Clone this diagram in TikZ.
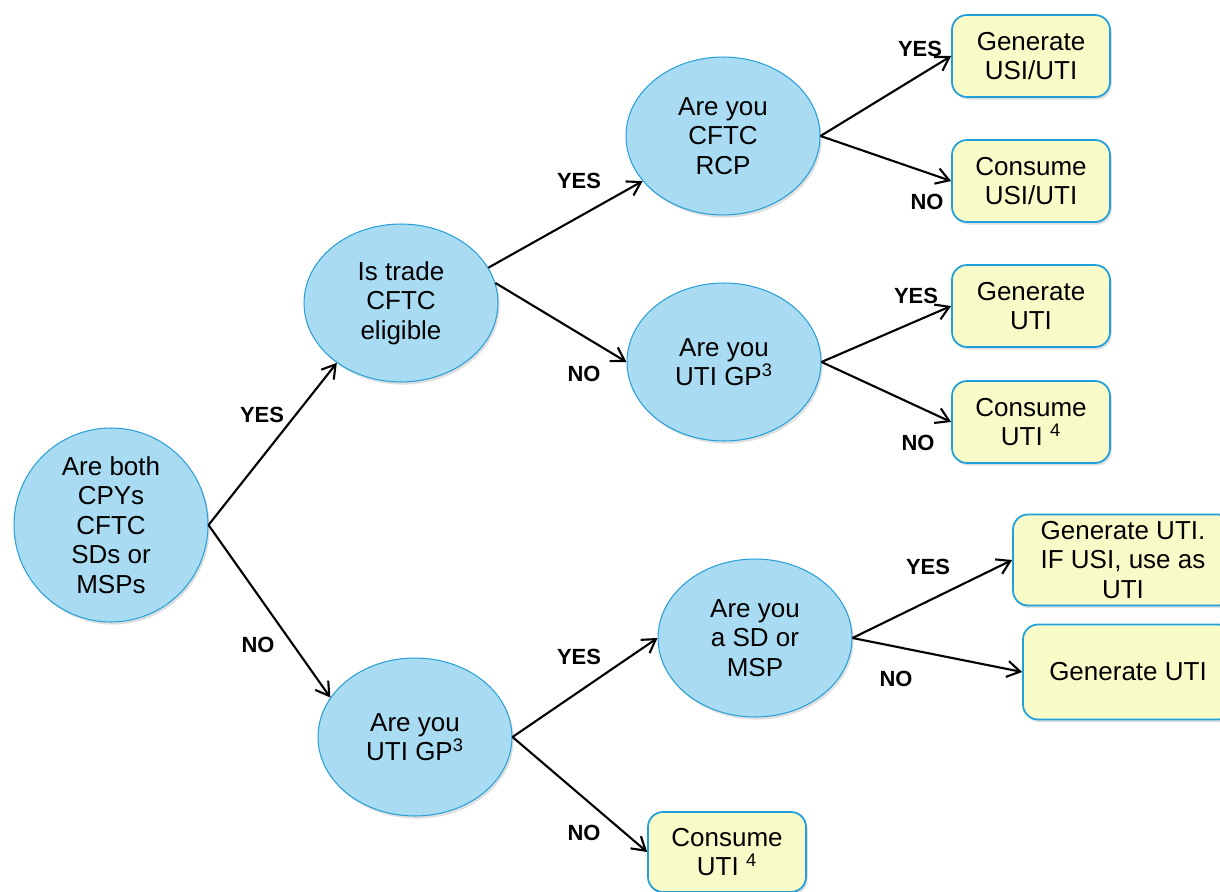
\documentclass[tikz,border=0pt]{standalone}
\usepackage{fontspec}
\setmainfont{Liberation Sans}
\usepackage{tikz}
\usetikzlibrary{shapes.geometric,arrows.meta,shadows}

\definecolor{askfill}{HTML}{A9DCF2}
\definecolor{askline}{HTML}{2AA0D8}
\definecolor{endfill}{HTML}{F8FBC8}
\definecolor{endline}{HTML}{1FA0DA}

\tikzset{
  ask/.style={ellipse,draw=askline,line width=0.6pt,fill=askfill,
    minimum width=3.88cm,minimum height=3.16cm,inner sep=0pt,align=center,
    drop shadow={opacity=0.25,shadow xshift=1pt,shadow yshift=-1.5pt},
    font=\fontsize{14.8}{16.8}\selectfont},
  outcome/.style={rectangle,rounded corners=0.3cm,draw=endline,line width=1pt,fill=endfill,
    minimum width=3.16cm,minimum height=1.64cm,inner sep=2pt,align=center,
    drop shadow={opacity=0.25,shadow xshift=1pt,shadow yshift=-1.5pt},
    font=\fontsize{14.8}{16.8}\selectfont},
  flow/.style={draw=black,line width=1.2pt,-{Straight Barb[length=2.6mm,width=3.2mm]}},
  ans/.style={font=\fontsize{12.5}{14}\selectfont\bfseries}
}

\begin{document}
\begin{tikzpicture}[x=0.02cm,y=-0.02cm]
\useasboundingbox (0,0) rectangle (1220,892);
\clip (0,0) rectangle (1220,892);

% questions
\node[ask] (both) at (111,525) {Are both\\CPYs\\CFTC\\SDs or\\MSPs};
\node[ask] (elig) at (401,303) {Is trade\\CFTC\\eligible};
\node[ask] (rcp) at (723,136) {Are you\\CFTC\\RCP};
\node[ask] (gpa) at (724,362) {Are you\\UTI GP\textsuperscript{3}};
\node[ask] (gpb) at (415,737) {Are you\\UTI GP\textsuperscript{3}};
\node[ask] (sdmsp) at (755,638) {Are you\\a SD or\\MSP};

% outcomes
\node[outcome] (genusi) at (1031,56) {Generate\\USI/UTI};
\node[outcome] (conusi) at (1031,181) {Consume\\USI/UTI};
\node[outcome] (genuti) at (1031,306) {Generate\\UTI};
\node[outcome] (conuti) at (1031,422) {Consume\\UTI \textsuperscript{4}};
\node[outcome,minimum width=4.4cm,minimum height=1.82cm] (genuse) at (1123,560) {Generate UTI.\\IF USI, use as\\UTI};
\node[outcome,minimum width=4.2cm,minimum height=1.9cm] (genutib) at (1128,672) {Generate UTI};
\node[outcome,minimum height=1.6cm] (conutib) at (727,852) {Consume\\UTI \textsuperscript{4}};

% connectors
\draw[flow] (both.east) -- (elig.223);
\draw[flow] (both.east) -- (gpb.155);
\draw[flow] (elig.22) -- (rcp);
\draw[flow] (elig.12) -- (gpa.west);
\draw[flow] (rcp.east) -- (genusi.west);
\draw[flow] (rcp.east) -- (conusi.west);
\draw[flow] (gpa.east) -- (genuti.west);
\draw[flow] (gpa.east) -- (conuti.west);
\draw[flow] (gpb.east) -- (sdmsp.west);
\draw[flow] (gpb.east) -- (conutib.west);
\draw[flow] (sdmsp.east) -- (genuse.west);
\draw[flow] (sdmsp.east) -- (genutib.west);

% answers
\node[ans] (a1) at (262,415) {YES};
\node[ans] (a2) at (258,645) {NO};
\node[ans] (a3) at (579,181) {YES};
\node[ans] (a4) at (584,374) {NO};
\node[ans] (a5) at (920,49) {YES};
\node[ans] (a6) at (927,202) {NO};
\node[ans] (a7) at (916,296) {YES};
\node[ans] (a8) at (918,443) {NO};
\node[ans] (a9) at (928,567) {YES};
\node[ans] (a10) at (896,679) {NO};
\node[ans] (a11) at (579,657) {YES};
\node[ans] (a12) at (584,833) {NO};
\end{tikzpicture}
\end{document}
